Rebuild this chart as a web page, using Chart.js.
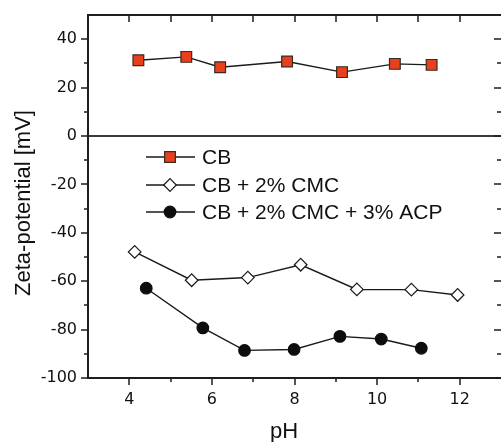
<!DOCTYPE html>
<html>
<head>
<meta charset="utf-8">
<script src="https://cdn.jsdelivr.net/npm/chart.js@4.4.0/dist/chart.umd.min.js"></script>
<style>
  html, body { margin: 0; padding: 0; background: #fff; }
  #wrap { width: 501px; height: 442px; }
</style>
</head>
<body>
<div id="wrap"><canvas id="zetaChart" width="501" height="442"></canvas></div>
<script>
// data
const seriesNames = ["CB", "CB + 2% CMC", "CB + 2% CMC + 3% ACP"];

const phCB = [4.22, 5.38, 6.20, 7.82, 9.15, 10.43, 11.32];
const zetaCB = [31.3, 32.7, 28.4, 30.8, 26.4, 29.8, 29.4];

const phCMC = [4.13, 5.51, 6.87, 8.15, 9.51, 10.83, 11.95];
const zetaCMC = [-47.9, -59.6, -58.5, -53.2, -63.4, -63.5, -65.7];

const phACP = [4.41, 5.78, 6.79, 7.99, 9.10, 10.10, 11.07];
const zetaACP = [-62.9, -79.3, -88.6, -88.2, -82.8, -83.9, -87.7];

const xTicks = [4, 6, 8, 10, 12];
const xMinor = [5, 7, 9, 11];
const yTicks = [-100, -80, -60, -40, -20, 0, 20, 40];
const yMinor = [-90, -70, -50, -30, -10, 10, 30];

const toPoints = (xs, ys) => xs.map((x, i) => ({ x: x, y: ys[i] }));

const AXIS = "#1e1e1e";

// frame, tick marks, zero line, titles and legend
const framePlugin = {
  id: "frame",
  beforeDatasetsDraw(chart) {
    const { ctx, chartArea: a, scales } = chart;
    const y = scales.y;
    ctx.save();
    // zero line
    ctx.strokeStyle = "#3a3a3a";
    ctx.lineWidth = 2;
    ctx.beginPath();
    const y0 = Math.round(y.getPixelForValue(0));
    ctx.moveTo(a.left, y0);
    ctx.lineTo(a.right, y0);
    ctx.stroke();
    ctx.restore();
  },
  afterDraw(chart) {
    const { ctx, chartArea: a, scales } = chart;
    const x = scales.x, y = scales.y;
    ctx.save();
    ctx.strokeStyle = AXIS;
    ctx.lineWidth = 2;
    // right spine falls outside the picture, so only three sides
    ctx.beginPath();
    ctx.moveTo(a.right, a.top);
    ctx.lineTo(a.left, a.top);
    ctx.lineTo(a.left, a.bottom);
    ctx.lineTo(a.right, a.bottom);
    ctx.stroke();

    ctx.lineWidth = 1.5;
    ctx.beginPath();
    const vTick = (px, y1, y2) => { ctx.moveTo(px, y1); ctx.lineTo(px, y2); };
    const hTick = (py, x1, x2) => { ctx.moveTo(x1, py); ctx.lineTo(x2, py); };
    xTicks.forEach(v => {
      const px = Math.round(x.getPixelForValue(v));
      vTick(px, a.bottom, a.bottom + 7);
      vTick(px, a.top, a.top + 7);
    });
    xMinor.forEach(v => {
      const px = Math.round(x.getPixelForValue(v));
      vTick(px, a.bottom, a.bottom + 4);
      vTick(px, a.top, a.top + 7);
    });
    yTicks.forEach(v => {
      const py = Math.round(y.getPixelForValue(v));
      hTick(py, a.left - 7, a.left);
      hTick(py, a.right - 7, a.right);
    });
    yMinor.forEach(v => {
      const py = Math.round(y.getPixelForValue(v));
      hTick(py, a.left - 4, a.left);
      hTick(py, a.right - 4, a.right);
    });
    ctx.stroke();

    // axis titles
    ctx.fillStyle = "#111";
    ctx.font = "22px 'Liberation Sans', Arial, sans-serif";
    ctx.textAlign = "center";
    ctx.textBaseline = "middle";
    ctx.fillText("pH", 284, 432);
    ctx.save();
    ctx.translate(24, 203);
    ctx.rotate(-Math.PI / 2);
    ctx.fillText("Zeta-potential [mV]", 0, 0);
    ctx.restore();

    // legend inside the plot
    const rows = [157, 185, 212];
    ctx.font = "21px 'Liberation Sans', Arial, sans-serif";
    ctx.textAlign = "left";
    chart.data.datasets.forEach((ds, i) => {
      const ry = rows[i];
      ctx.strokeStyle = ds.borderColor;
      ctx.lineWidth = ds.borderWidth;
      ctx.beginPath();
      ctx.moveTo(146, ry);
      ctx.lineTo(195, ry);
      ctx.stroke();
      ctx.fillStyle = ds.pointBackgroundColor;
      ctx.strokeStyle = ds.pointBorderColor;
      ctx.lineWidth = ds.pointBorderWidth;
      Chart.helpers.drawPoint(ctx, {
        pointStyle: ds.pointStyle,
        radius: ds.pointRadius,
        rotation: 0,
        borderWidth: ds.pointBorderWidth
      }, 170, ry);
      ctx.fillStyle = "#111";
      ctx.fillText(ds.label, 202, ry + 1);
    });
    ctx.restore();
  }
};

const lineStyle = {
  showLine: true,
  borderColor: "#1a1a1a",
  borderWidth: 1.4,
  tension: 0,
  pointBorderColor: "#1a1a1a",
  pointBorderWidth: 1.2
};

new Chart(document.getElementById("zetaChart").getContext("2d"), {
  type: "scatter",
  data: {
    datasets: [
      Object.assign({}, lineStyle, {
        label: seriesNames[0],
        data: toPoints(phCB, zetaCB),
        pointStyle: "rect",
        pointRadius: 7.6,
        pointBackgroundColor: "#e8401c",
        pointBorderColor: "#3a2a20"
      }),
      Object.assign({}, lineStyle, {
        label: seriesNames[1],
        data: toPoints(phCMC, zetaCMC),
        pointStyle: "rectRot",
        pointRadius: 6.3,
        pointBackgroundColor: "#ffffff"
      }),
      Object.assign({}, lineStyle, {
        label: seriesNames[2],
        data: toPoints(phACP, zetaACP),
        pointStyle: "circle",
        pointRadius: 5.8,
        pointBackgroundColor: "#0d0d0d",
        pointBorderColor: "#0d0d0d"
      })
    ]
  },
  options: {
    responsive: false,
    animation: false,
    // no auto padding so the plot runs to the right edge like the original
    layout: { autoPadding: false, padding: { top: 15, left: 0, right: 0, bottom: 0 } },
    plugins: {
      legend: { display: false },
      tooltip: { enabled: false }
    },
    scales: {
      x: {
        type: "linear",
        min: 3,
        max: 13,
        afterBuildTicks: s => { s.ticks = xTicks.map(v => ({ value: v })); },
        afterFit: s => { s.height = 64; s.paddingLeft = 0; s.paddingRight = 0; },
        grid: { display: false, drawTicks: false },
        border: { display: false },
        ticks: { color: "#111", font: { family: "'DejaVu Sans', Arial, sans-serif", size: 16 }, padding: 12, maxRotation: 0 }
      },
      y: {
        type: "linear",
        min: -100,
        max: 50,
        afterBuildTicks: s => { s.ticks = yTicks.map(v => ({ value: v })); },
        afterFit: s => { s.width = 88; s.paddingTop = 0; s.paddingBottom = 0; },
        grid: { display: false, drawTicks: false },
        border: { display: false },
        ticks: { color: "#111", font: { family: "'DejaVu Sans', Arial, sans-serif", size: 16 }, padding: 11 }
      }
    }
  },
  plugins: [framePlugin]
});
</script>
</body>
</html>
